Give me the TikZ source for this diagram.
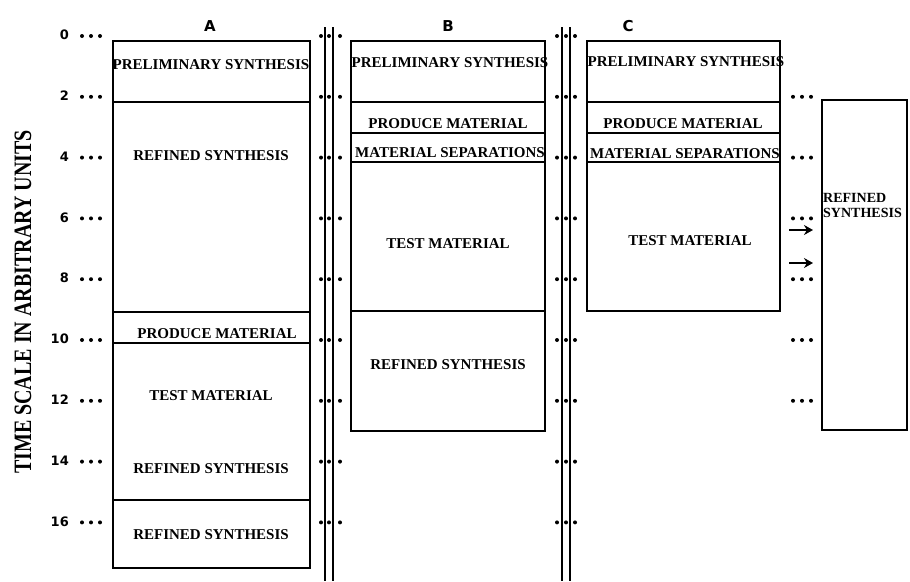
\documentclass[tikz,border=0pt]{standalone}
\usepackage{fontspec}
\setmainfont{Liberation Serif}
\newfontfamily\ticksans{DejaVu Sans}
\usetikzlibrary{arrows.meta}

\begin{document}
\begin{tikzpicture}[x=1pt, y=-1pt,
  box/.style={line width=1.8pt},
  cut/.style={line width=2.3pt},
  sep/.style={line width=1.8pt},
  stage/.style={font=\bfseries\fontsize{15}{16}\selectfont, inner sep=0pt},
  tick/.style={font=\ticksans\bfseries\fontsize{13}{14}\selectfont, inner sep=0pt, anchor=east},
  head/.style={font=\ticksans\bfseries\fontsize{15}{16}\selectfont, inner sep=0pt},
  arr/.style={-{Stealth[length=9pt, width=10pt]}, line width=2pt}]

\useasboundingbox (0,0) rectangle (910,581);

\node [rotate=90, inner sep=0pt, font=\bfseries\fontsize{25}{26}\selectfont] (axis) at (23, 302)
  {\scalebox{0.8}[1]{TIME SCALE IN ARBITRARY UNITS}};

% ticks and dotted rows
\foreach \t in {0,2,...,16} {
  \node [tick] (t\t) at (69, {35+30.4*\t}) {\t};
  \foreach \dx in {82,91,100,321,329,340,557,566,575}
    \fill (\dx, {36+30.4*\t}) circle (2);
}
\foreach \t in {2,4,...,12}
  \foreach \dx in {793,802,811}
    \fill (\dx, {36+30.4*\t}) circle (2);

% double separators
\draw [sep] (325,27) -- (325,581);
\draw [sep] (333,27) -- (333,581);
\draw [sep] (562,27) -- (562,581);
\draw [sep] (570,27) -- (570,581);

\node [head] (hA) at (210,26) {A};
\node [head] (hB) at (448,26) {B};
\node [head] (hC) at (628,26) {C};

% schedule A
\draw [box] (113,41) rectangle (310,568);
\foreach \y in {102,312,343,500}
  \draw [cut] (113,\y) -- (310,\y);
\node [stage] (a1) at (211,65) {PRELIMINARY SYNTHESIS};
\node [stage] (a2) at (211,156) {REFINED SYNTHESIS};
\node [stage] (a3) at (217,334) {PRODUCE MATERIAL};
\node [stage] (a4) at (211,396) {TEST MATERIAL};
\node [stage] (a5) at (211,469) {REFINED SYNTHESIS};
\node [stage] (a6) at (211,535) {REFINED SYNTHESIS};

% schedule B
\draw [box] (351,41) rectangle (545,431);
\foreach \y in {102,133,162,311}
  \draw [cut] (351,\y) -- (545,\y);
\node [stage] (b1) at (450,63) {PRELIMINARY SYNTHESIS};
\node [stage] (b2) at (448,124) {PRODUCE MATERIAL};
\node [stage] (b3) at (450,153) {MATERIAL SEPARATIONS};
\node [stage] (b4) at (448,244) {TEST MATERIAL};
\node [stage] (b5) at (448,365) {REFINED SYNTHESIS};

% schedule C
\draw [box] (587,41) rectangle (780,311);
\foreach \y in {102,133,162}
  \draw [cut] (587,\y) -- (780,\y);
\node [stage] (c1) at (686,62) {PRELIMINARY SYNTHESIS};
\node [stage] (c2) at (683,124) {PRODUCE MATERIAL};
\node [stage] (c3) at (685,154) {MATERIAL SEPARATIONS};
\node [stage] (c4) at (690,241) {TEST MATERIAL};

\draw [box] (822,100) rectangle (907,430);
\node [stage, anchor=west, align=left, font=\bfseries\fontsize{14}{15}\selectfont] (d1) at (823,205)
  {REFINED\\SYNTHESIS};

\coordinate (p1) at (789,230);
\coordinate (q1) at (813,230);
\coordinate (p2) at (789,263);
\coordinate (q2) at (813,263);
\draw [arr] (p1) -- (q1);
\draw [arr] (p2) -- (q2);

\end{tikzpicture}
\end{document}
